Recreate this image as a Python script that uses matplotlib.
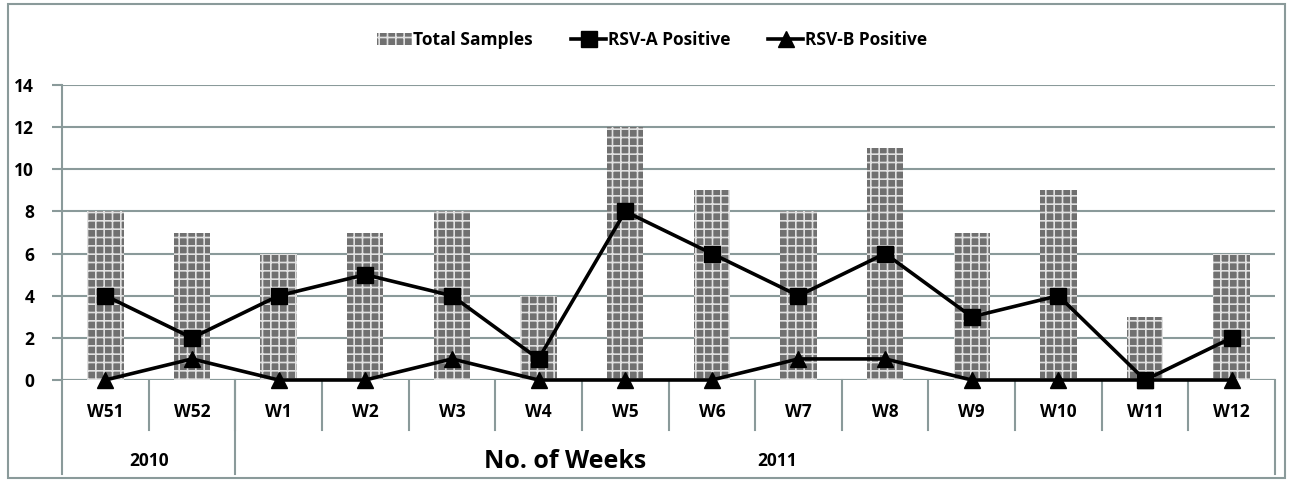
import matplotlib
matplotlib.use("Agg")
import matplotlib.pyplot as plt
from matplotlib.patches import Rectangle
from matplotlib.lines import Line2D
import numpy as np

weeks = ["W51", "W52", "W1", "W2", "W3", "W4", "W5", "W6", "W7", "W8", "W9", "W10", "W11", "W12"]
total_samples = [8, 7, 6, 7, 8, 4, 12, 9, 8, 11, 7, 9, 3, 6]
rsv_a = [4, 2, 4, 5, 4, 1, 8, 6, 4, 6, 3, 4, 0, 2]
rsv_b = [0, 1, 0, 0, 1, 0, 0, 0, 1, 1, 0, 0, 0, 0]
years = ["2010", "2011"]
yticks = [0, 2, 4, 6, 8, 10, 12, 14]

plt.rcParams['font.family'] = ['Open Sans', 'DejaVu Sans']
W, H = 1289, 484
fig = plt.figure(figsize=(W / 100, H / 100), dpi=100)
ax = fig.add_axes([62 / W, 1 - 380 / H, (1275 - 62) / W, (380 - 85) / H])

x = np.arange(len(weeks))
plt.rcParams['hatch.linewidth'] = 1.2
bars = ax.bar(x, total_samples, width=0.42, color='#707070', edgecolor='#e0e0e0',
              hatch='++', linewidth=0, zorder=2, label='Total Samples')
la, = ax.plot(x, rsv_a, color='black', lw=2.6, marker='s', ms=11, zorder=4, label='RSV-A Positive', clip_on=False)
lb, = ax.plot(x, rsv_b, color='black', lw=2.6, marker='^', ms=11, zorder=4, label='RSV-B Positive', clip_on=False)

ax.set_xlim(-0.5, len(weeks) - 0.5)
ax.set_ylim(0, 14)
ax.set_yticks(yticks)
ax.set_yticklabels([str(v) for v in yticks], fontsize=12.5, fontweight='bold')
ax.yaxis.grid(True, color='#8a9a9a', lw=1.5, zorder=0)
ax.tick_params(axis='y', length=7, color='#8a9a9a', width=1.5, pad=13)
ax.set_xticks([])
for s in ['top', 'right', 'bottom']:
    ax.spines[s].set_visible(False)
ax.spines['left'].set_color('#8a9a9a')
ax.spines['left'].set_linewidth(1.5)
ax.axhline(0, color='#8a9a9a', lw=1.5, zorder=1)

trans = ax.get_xaxis_transform()
for i, w in enumerate(weeks):
    ax.text(i, -0.11, w, transform=trans, ha='center', va='center', fontsize=12.5, fontweight='bold')
for b in range(1, len(weeks)):
    ax.add_line(Line2D([b - 0.5, b - 0.5], [0, -0.17], transform=trans, color='#8a9a9a', lw=1.5, clip_on=False))
for b in [0, 2, 14]:
    ax.add_line(Line2D([b - 0.5, b - 0.5], [0, -0.32], transform=trans, color='#8a9a9a', lw=1.5, clip_on=False))
ax.text(0.5, -0.275, years[0], transform=trans, ha='center', va='center', fontsize=12.5, fontweight='bold')
ax.text(7.75, -0.275, years[1], transform=trans, ha='center', va='center', fontsize=12.5, fontweight='bold')
fig.text(565 / W, 1 - 462 / H, "No. of Weeks", ha='center', va='center', fontsize=18, fontweight='bold')

leg = fig.legend([bars, la, lb], ['Total Samples', 'RSV-A Positive', 'RSV-B Positive'],
                 loc='center', bbox_to_anchor=(652 / W, 1 - 40 / H), ncol=3, frameon=False,
                 prop={'weight': 'bold', 'size': 12.5}, handlelength=2.0, columnspacing=2.2,
                 handletextpad=0.1)

fig.patches.append(Rectangle((8 / W, 1 - 478 / H), (1285 - 8) / W, (478 - 4) / H,
                             transform=fig.transFigure, fill=False, edgecolor='#8a9a9a', lw=1.5))
fig.savefig("out.png", dpi=100)
